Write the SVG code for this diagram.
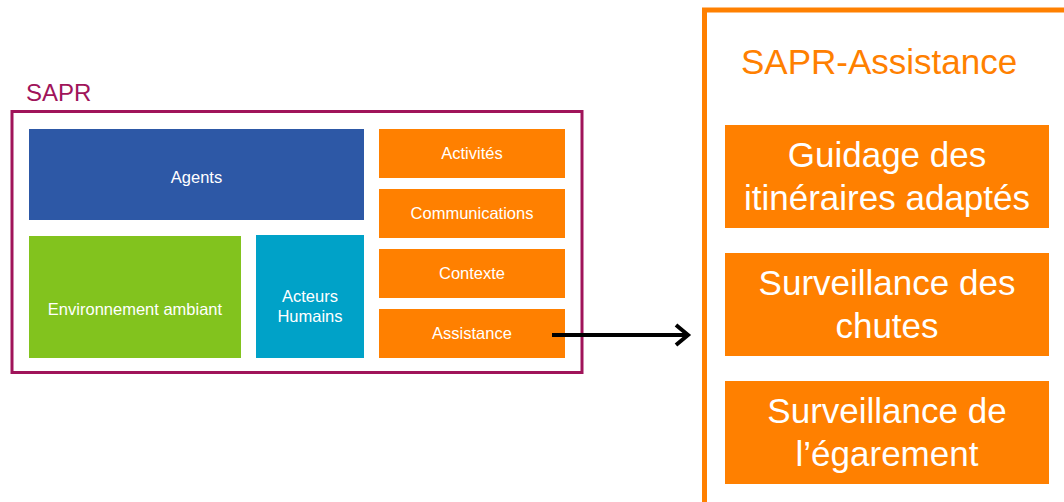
<svg xmlns="http://www.w3.org/2000/svg" width="1064" height="502" viewBox="0 0 1064 502">
<defs>
<style>
.t{font-family:"Liberation Sans",Arial,sans-serif;fill:#fff;text-anchor:middle}
.s{font-size:16.5px}
.b{font-size:35px}
.or{fill:#FF8000}
</style>
<marker id="chev" markerUnits="userSpaceOnUse" markerWidth="20" markerHeight="26" refX="15" refY="12" orient="auto" viewBox="0 0 20 24">
<path d="M3 2 L15 12 L3 22" fill="none" stroke="#000" stroke-width="4"/>
</marker>
</defs>
<rect width="1064" height="502" fill="#fff"/>
<g id="sapr">
<rect x="12" y="111.5" width="570" height="261" fill="none" stroke="#A0145A" stroke-width="3"/>
<text x="26" y="101" font-family="'Liberation Sans',Arial,sans-serif" font-size="24" fill="#A0145A">SAPR</text>
</g>
<g id="agents">
<rect x="29" y="129" width="335" height="91" fill="#2D58A6"/>
<text class="t s" x="196.5" y="183">Agents</text>
</g>
<g id="environnement">
<rect x="29" y="236" width="212" height="122" fill="#82C31E"/>
<text class="t s" x="135" y="315">Environnement ambiant</text>
</g>
<g id="acteurs">
<rect x="256" y="235" width="108" height="123" fill="#00A2C8"/>
<text class="t s" x="310" y="302">Acteurs</text>
<text class="t s" x="310" y="322">Humains</text>
</g>
<g id="activites">
<rect class="or" x="379" y="129" width="186" height="49"/>
<text class="t s" x="472" y="159">Activités</text>
</g>
<g id="communications">
<rect class="or" x="379" y="189" width="186" height="49"/>
<text class="t s" x="472" y="219">Communications</text>
</g>
<g id="contexte">
<rect class="or" x="379" y="249" width="186" height="49"/>
<text class="t s" x="472" y="279">Contexte</text>
</g>
<g id="assistance">
<rect class="or" x="379" y="309" width="186" height="49"/>
<text class="t s" x="472" y="339">Assistance</text>
</g>
<g id="sapr-assistance">
<rect x="704.5" y="10" width="400" height="600" fill="none" stroke="#FF8000" stroke-width="5"/>
<text x="741" y="74" font-family="'Liberation Sans',Arial,sans-serif" font-size="35" fill="#FF8000">SAPR-Assistance</text>
</g>
<g id="guidage">
<rect class="or" x="725" y="125" width="324" height="103"/>
<text class="t b" x="887" y="167">Guidage des</text>
<text class="t b" x="887" y="210">itinéraires adaptés</text>
</g>
<g id="chutes">
<rect class="or" x="725" y="253" width="324" height="103"/>
<text class="t b" x="887" y="295">Surveillance des</text>
<text class="t b" x="887" y="338">chutes</text>
</g>
<g id="egarement">
<rect class="or" x="725" y="381" width="324" height="103"/>
<text class="t b" x="887" y="423">Surveillance de</text>
<text class="t b" x="887" y="466">l’égarement</text>
</g>
<g id="connectors">
<path d="M552 335 H688" fill="none" stroke="#000" stroke-width="4" marker-end="url(#chev)"/>
</g>
</svg>
